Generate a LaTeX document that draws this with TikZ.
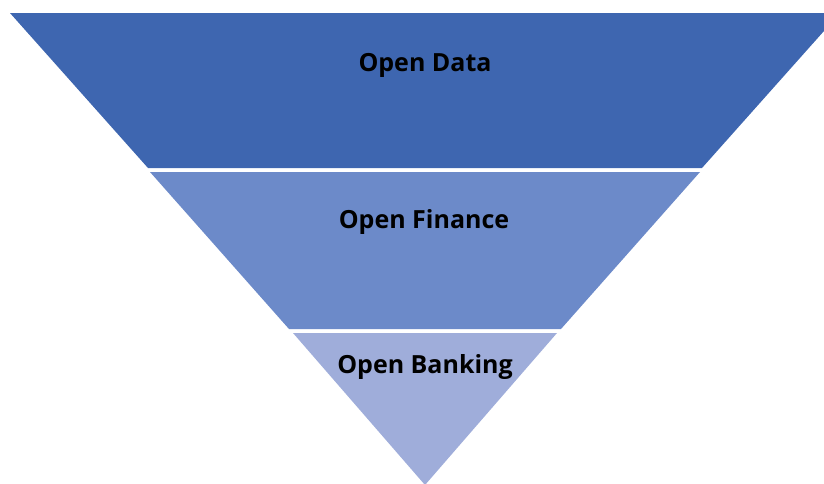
\documentclass[tikz,border=0pt]{standalone}
\usepackage{fontspec}
\setmainfont{Open Sans}
\usetikzlibrary{positioning}

\definecolor{dataBlue}{HTML}{3E66B0}
\definecolor{financeBlue}{HTML}{6C8AC9}
\definecolor{bankingBlue}{HTML}{9FADDA}

\begin{document}
\begin{tikzpicture} [x=1pt, y=-1pt,
	band/.style={draw=none},
	label/.style={anchor=base, inner sep=0pt, text=black,
		font=\bfseries\fontsize{25}{30}\selectfont}]
	\useasboundingbox (0,0) rectangle (824,483);
	
	% funnel bands
	\fill[band, fill=dataBlue] (10,13) -- (840,13) -- (702,168) -- (148,168) -- cycle;
	\fill[band, fill=financeBlue] (150,172) -- (700,172) -- (561,329) -- (289,329) -- cycle;
	\fill[band, fill=bankingBlue] (293,333) -- (557,333) -- (425,485) -- cycle;
	
	% labels
	\node[label] (data) at (425,71) {Open Data};
	\node[label] (finance) at (424,228) {Open Finance};
	\node[label] (banking) at (425,373) {Open Banking};
	
\end{tikzpicture}
\end{document}
